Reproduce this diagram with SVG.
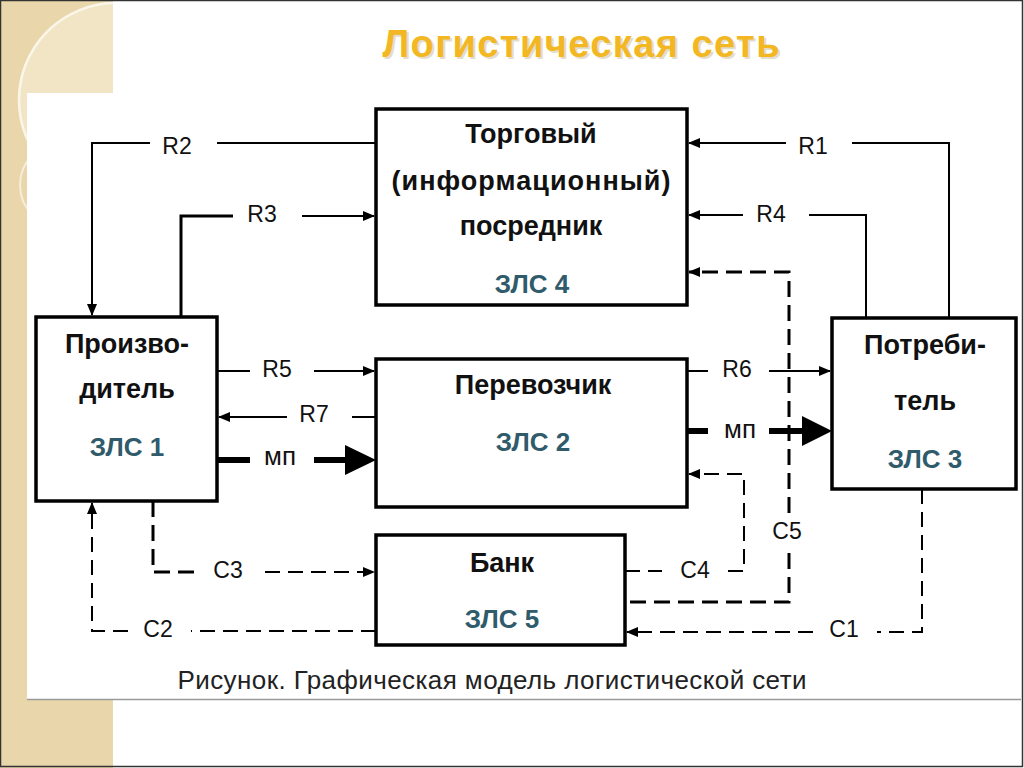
<svg xmlns="http://www.w3.org/2000/svg" width="1024" height="768" viewBox="0 0 1024 768">
<style>
.box{fill:#fff;stroke:#000;stroke-width:3.5}
.bt{font-family:"Liberation Sans",Arial,sans-serif;font-weight:bold;font-size:27px;fill:#111;text-anchor:middle}
.zls{font-family:"Liberation Sans",Arial,sans-serif;font-weight:bold;font-size:26px;fill:#2F5B6B;text-anchor:middle}
.lbl{font-family:"Liberation Sans",Arial,sans-serif;font-size:23px;fill:#111;text-anchor:middle}
.mp{font-size:26px}
.ln{fill:none;stroke:#000;stroke-width:2}
.ds{fill:none;stroke:#000;stroke-width:2;stroke-dasharray:15 8}
.dsb{fill:none;stroke:#000;stroke-width:3;stroke-dasharray:16 8}
.thick{fill:none;stroke:#000;stroke-width:6}
</style>
<defs>
<marker id="ah" markerUnits="userSpaceOnUse" markerWidth="12" markerHeight="10" refX="11" refY="5" orient="auto">
<path d="M0,0 L12,5 L0,10 z" fill="#000"/>
</marker>
<clipPath id="bg"><rect x="0" y="0" width="113" height="768"/></clipPath>
</defs>
<rect x="0" y="0" width="1024" height="768" fill="#fff"/>
<g id="decor" clip-path="url(#bg)">
<rect x="0" y="0" width="113" height="768" fill="#E9D7AB"/>
<circle cx="116" cy="100" r="97" fill="#F1E5C6" stroke="#FBF6EA" stroke-width="2.5"/>
<circle cx="62" cy="185" r="42" fill="none" stroke="#F6EEDA" stroke-width="2"/>
</g>
<rect x="27" y="93" width="994" height="606" fill="#fff"/>
<line x1="27" y1="699.5" x2="1021" y2="699.5" stroke="#9a9a9a" stroke-width="1.5"/>
<rect x="0.5" y="0.5" width="1022" height="766" fill="none" stroke="#333" stroke-width="1.5"/>
<g id="title">
<text x="583" y="59" font-family="Liberation Sans,Arial,sans-serif" font-weight="bold" font-size="38" fill="#b0a070" opacity="0.35" text-anchor="middle" textLength="397">Логистическая сеть</text>
<text x="581" y="57" font-family="Liberation Sans,Arial,sans-serif" font-weight="bold" font-size="38" fill="#F2B722" text-anchor="middle" textLength="397">Логистическая сеть</text>
</g>
<g id="connectors">
<path class="ln" d="M376,143 H217"/>
<path class="ln" d="M150,143 H92 V315" marker-end="url(#ah)"/>
<path class="ln" d="M181,317 V216 H233" style="stroke-width:3"/>
<path class="ln" d="M302,216 H374" marker-end="url(#ah)"/>
<path class="ln" d="M949,318 V143 H852"/>
<path class="ln" d="M786,143 H689" marker-end="url(#ah)"/>
<path class="ln" d="M866,318 V215 H809"/>
<path class="ln" d="M743,215 H689" marker-end="url(#ah)"/>
<path class="dsb" d="M789,513 V272 H689" marker-end="url(#ah)"/>
<path class="dsb" d="M789,553 V602 H630"/>
<path class="ln" d="M217,371 H250"/>
<path class="ln" d="M314,371 H374" marker-end="url(#ah)"/>
<path class="ln" d="M376,417 H352"/>
<path class="ln" d="M287,417 H219" marker-end="url(#ah)"/>
<path class="thick" d="M217,460 H250 M314,460 H346"/>
<polygon points="345,445 376,460 345,475" fill="#000"/>
<path class="ln" d="M687,371 H708"/>
<path class="ln" d="M769,371 H830" marker-end="url(#ah)"/>
<path class="thick" d="M687,431 H708 M769,431 H803"/>
<polygon points="802,416 832,431 802,446" fill="#000"/>
<path class="ds" d="M625,571 H662"/>
<path class="ds" d="M728,571 H744 V474 H689" marker-end="url(#ah)"/>
<path class="ds" d="M922,489 V632 H877"/>
<path class="ds" d="M813,632 H627" marker-end="url(#ah)"/>
<path class="dsb" d="M153,501 V572 H194"/>
<path class="ds" d="M265,572 H374" marker-end="url(#ah)"/>
<path class="ds" d="M376,631 H191"/>
<path class="ds" d="M128,631 H92 V503" marker-end="url(#ah)"/>
<text class="lbl" x="177" y="154">R2</text>
<text class="lbl" x="262" y="222">R3</text>
<text class="lbl" x="813" y="154">R1</text>
<text class="lbl" x="771" y="222">R4</text>
<text class="lbl" x="277" y="377">R5</text>
<text class="lbl" x="314" y="422">R7</text>
<text class="lbl mp" x="280" y="465">мп</text>
<text class="lbl" x="737" y="377">R6</text>
<text class="lbl mp" x="740" y="438">мп</text>
<text class="lbl" x="787" y="539">C5</text>
<text class="lbl" x="695" y="578">C4</text>
<text class="lbl" x="844" y="637">C1</text>
<text class="lbl" x="228" y="578">C3</text>
<text class="lbl" x="158" y="637">C2</text>
</g>
<g id="trade">
<rect class="box" x="376" y="109" width="311" height="196"/>
<text class="bt" x="531" y="143">Торговый</text>
<text class="bt" x="531" y="190" textLength="279">(информационный)</text>
<text class="bt" x="531" y="235">посредник</text>
<text class="zls" x="532" y="293">ЗЛС 4</text>
</g>
<g id="producer">
<rect class="box" x="36" y="317" width="181" height="184"/>
<text class="bt" x="127" y="353">Произво-</text>
<text class="bt" x="127" y="398">дитель</text>
<text class="zls" x="127" y="456">ЗЛС 1</text>
</g>
<g id="carrier">
<rect class="box" x="376" y="359" width="311" height="148"/>
<text class="bt" x="533" y="394">Перевозчик</text>
<text class="zls" x="533" y="451">ЗЛС 2</text>
</g>
<g id="bank">
<rect class="box" x="376" y="535" width="249" height="110"/>
<text class="bt" x="502" y="572">Банк</text>
<text class="zls" x="502" y="628">ЗЛС 5</text>
</g>
<g id="consumer">
<rect class="box" x="832" y="318" width="184" height="171"/>
<text class="bt" x="925" y="354">Потреби-</text>
<text class="bt" x="925" y="410">тель</text>
<text class="zls" x="925" y="468">ЗЛС 3</text>
</g>
<text x="492" y="689" font-family="Liberation Sans,Arial,sans-serif" font-size="26" fill="#222" text-anchor="middle" textLength="629">Рисунок. Графическая модель логистической сети</text>
</svg>
